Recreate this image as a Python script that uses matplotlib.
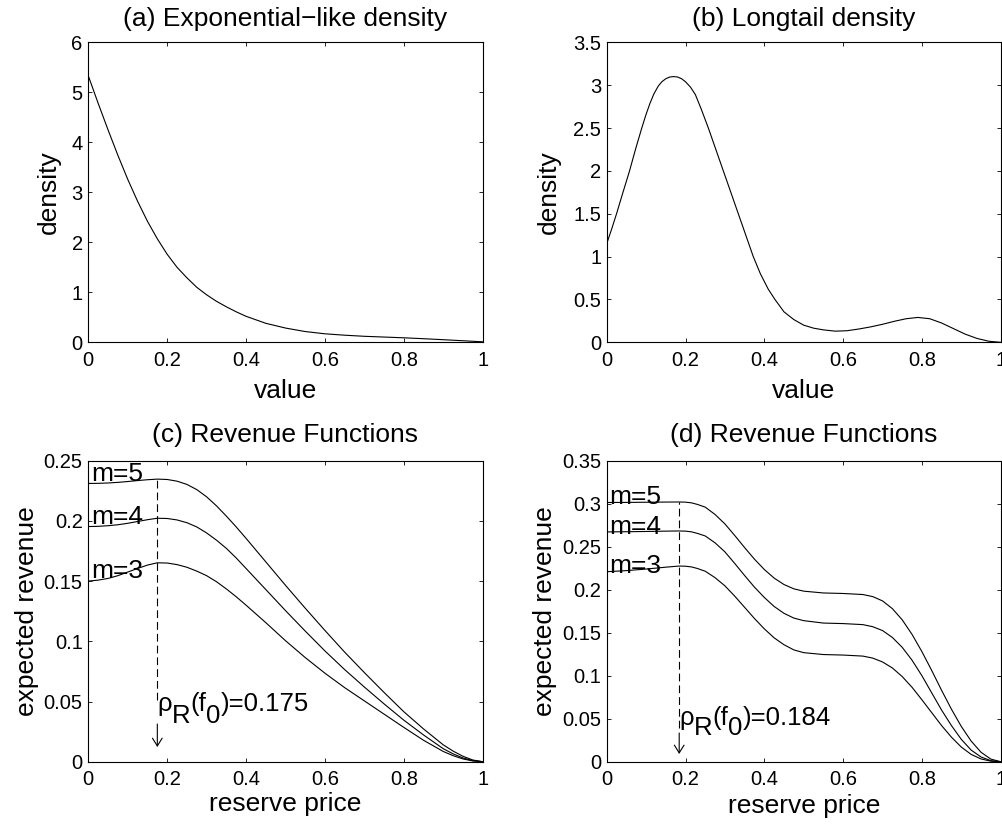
import numpy as np
import matplotlib
matplotlib.use("Agg")
import matplotlib.pyplot as plt
from matplotlib.transforms import IdentityTransform

plt.rcParams['font.family'] = ['Liberation Sans', 'DejaVu Sans']

# (a) exponential-like density
exp_x = [0, 0.025, 0.05, 0.075, 0.1, 0.125, 0.15, 0.175, 0.2, 0.225, 0.25, 0.275,
         0.3, 0.325, 0.35, 0.375, 0.4, 0.45, 0.5, 0.55, 0.6, 0.65, 0.7, 0.75,
         0.8, 0.85, 0.9, 0.95, 1.0]
exp_y = [5.33, 4.78, 4.25, 3.74, 3.26, 2.82, 2.42, 2.07, 1.76, 1.50, 1.29, 1.10,
         0.95, 0.82, 0.71, 0.61, 0.52, 0.38, 0.285, 0.215, 0.17, 0.142, 0.12, 0.105,
         0.09, 0.072, 0.052, 0.031, 0.01]

# (b) longtail density
lt_x = [0, 0.0125, 0.025, 0.04, 0.058, 0.073, 0.089, 0.1, 0.11, 0.12, 0.131, 0.14,
        0.15, 0.16, 0.17, 0.18, 0.19, 0.2, 0.213, 0.225, 0.24, 0.258, 0.277, 0.296,
        0.315, 0.334, 0.353, 0.372, 0.39, 0.41, 0.427, 0.45, 0.475, 0.5, 0.525,
        0.55, 0.58, 0.61, 0.64, 0.67, 0.7, 0.73, 0.76, 0.79, 0.82, 0.85, 0.88,
        0.91, 0.94, 0.97, 1.0]
lt_y = [1.15, 1.32, 1.50, 1.73, 2.00, 2.25, 2.50, 2.66, 2.79, 2.90, 2.99, 3.04,
        3.075, 3.095, 3.10, 3.095, 3.075, 3.04, 2.975, 2.89, 2.72, 2.50, 2.25, 2.00,
        1.75, 1.50, 1.25, 1.00, 0.80, 0.62, 0.50, 0.355, 0.265, 0.20, 0.165,
        0.145, 0.13, 0.135, 0.155, 0.18, 0.21, 0.245, 0.275, 0.29, 0.275, 0.225, 0.16,
        0.095, 0.045, 0.012, 0.0]

# (c) revenue functions, exponential-like density
rev_c_x = [0, 0.025, 0.05, 0.075, 0.1, 0.125, 0.15, 0.175, 0.2, 0.225, 0.25, 0.275,
           0.3, 0.325, 0.35, 0.375, 0.4, 0.45, 0.5, 0.55, 0.6, 0.65, 0.7, 0.75,
           0.8, 0.85, 0.9, 0.925, 0.95, 0.975, 1.0]
rev_c_m5 = [0.2311, 0.2312, 0.2315, 0.2320, 0.2327, 0.2335, 0.2342, 0.2347, 0.2344,
            0.2330, 0.2303, 0.2260, 0.2200, 0.2125, 0.2040, 0.1950, 0.1855, 0.1660,
            0.1465, 0.1275, 0.1090, 0.0910, 0.0740, 0.0575, 0.0415, 0.0272, 0.0140,
            0.0088, 0.0045, 0.0014, 0.0]
rev_c_m4 = [0.1953, 0.1955, 0.1960, 0.1968, 0.1980, 0.1995, 0.2010, 0.2022, 0.2020,
            0.2008, 0.1985, 0.1950, 0.1900, 0.1840, 0.1772, 0.1692, 0.1605, 0.1430,
            0.1255, 0.1085, 0.0920, 0.0765, 0.0620, 0.0480, 0.0345, 0.0222, 0.0108,
            0.0065, 0.0031, 0.0009, 0.0]
rev_c_m3 = [0.1500, 0.1508, 0.1522, 0.1545, 0.1575, 0.1605, 0.1633, 0.1652, 0.1650,
            0.1637, 0.1615, 0.1583, 0.1545, 0.1495, 0.1435, 0.1370, 0.1300, 0.1155,
            0.1005, 0.0865, 0.0735, 0.0615, 0.0505, 0.0395, 0.0285, 0.0178, 0.0085,
            0.0050, 0.0023, 0.0006, 0.0]
rho_c = 0.175

# (d) revenue functions, longtail density
rev_d_x = [0, 0.05, 0.1, 0.15, 0.184, 0.2, 0.215, 0.23, 0.25, 0.275, 0.3, 0.325,
           0.35, 0.375, 0.4, 0.425, 0.45, 0.475, 0.5, 0.55, 0.6, 0.65, 0.675, 0.7,
           0.725, 0.75, 0.775, 0.8, 0.825, 0.85, 0.875, 0.9, 0.925, 0.95, 0.975, 1.0]
rev_d_m5 = [0.3014, 0.3015, 0.3017, 0.3019, 0.3020, 0.3018, 0.3010, 0.2992, 0.2960,
            0.2875, 0.2765, 0.2630, 0.2490, 0.2355, 0.2235, 0.2135, 0.2060, 0.2010,
            0.1983, 0.1962, 0.1956, 0.1944, 0.1920, 0.1870, 0.1780, 0.1650, 0.1480,
            0.1280, 0.1060, 0.0830, 0.0610, 0.0410, 0.0240, 0.0110, 0.0030, 0.0]
rev_d_m4 = [0.2672, 0.2674, 0.2677, 0.2681, 0.2683, 0.2681, 0.2673, 0.2655, 0.2625,
            0.2545, 0.2440, 0.2305, 0.2165, 0.2030, 0.1910, 0.1805, 0.1725, 0.1670,
            0.1640, 0.1612, 0.1606, 0.1594, 0.1570, 0.1525, 0.1445, 0.1330, 0.1180,
            0.1000, 0.0800, 0.0600, 0.0420, 0.0260, 0.0135, 0.0055, 0.0012, 0.0]
rev_d_m3 = [0.2209, 0.2222, 0.2240, 0.2262, 0.2275, 0.2273, 0.2265, 0.2247, 0.2215,
            0.2140, 0.2045, 0.1925, 0.1795, 0.1665, 0.1545, 0.1440, 0.1360, 0.1300,
            0.1268, 0.1246, 0.1240, 0.1228, 0.1205, 0.1160, 0.1090, 0.0990, 0.0865,
            0.0720, 0.0570, 0.0420, 0.0285, 0.0170, 0.0085, 0.0032, 0.0006, 0.0]
rho_d = 0.184

x_ticks = [0, 0.2, 0.4, 0.6, 0.8, 1]
x_ticklabels = ['0', '0.2', '0.4', '0.6', '0.8', '1']

BIG = 19
RHO = 18.5
SMALL = 14.5
W, H = 1003.0, 827.0

fig = plt.figure(figsize=(10.03, 8.27), dpi=100)


def make_axes(left, top, right, bottom):
    return fig.add_axes([left / W, 1 - bottom / H, (right - left) / W, (bottom - top) / H])


def style(ax, yticks, ylabels, ymax, title, xlabel, ylabel, ylab_x, xlab_y, pad):
    ax.set_xlim(0, 1)
    ax.set_ylim(0, ymax)
    ax.set_xticks(x_ticks)
    ax.set_xticklabels(x_ticklabels)
    ax.set_yticks(yticks)
    ax.set_yticklabels(ylabels)
    ax.tick_params(direction='in', top=True, right=True, length=3, width=0.6,
                   labelsize=SMALL)
    ax.tick_params(axis='x', pad=6)
    ax.tick_params(axis='y', pad=4)
    for s in ax.spines.values():
        s.set_linewidth(0.8)
    ax.set_title(title, fontsize=BIG, pad=pad)
    ax.set_xlabel(xlabel, fontsize=BIG)
    ax.set_ylabel(ylabel, fontsize=BIG)
    ax.xaxis.set_label_coords(0.5, xlab_y)
    ax.xaxis.label.set_verticalalignment('baseline')
    ax.yaxis.set_label_coords(ylab_x, 0.5)


def rho_label(ax, x, y, value, drop):
    # MATLAB-style subscripts: full size, just lowered
    r = fig.canvas.get_renderer()
    px, py = ax.transData.transform((x, y))
    pieces = [('\u03c1', 0), ('R', -drop), ('(f', 0), ('0', -drop), (')=%.3f' % value, 0)]
    for s, dy in pieces:
        t = fig.text(px, py + dy, s, transform=IdentityTransform(), fontsize=RHO,
                     va='baseline', ha='left')
        px = t.get_window_extent(renderer=r).x1


def revenue_panel(ax, xs, curves, rho, label_y, rho_y, arrow, dash_low, drop):
    for ys in curves:
        ax.plot(xs, ys, color='k', lw=0.8)
    top = np.interp(rho, xs, curves[-1])
    ax.plot([rho, rho], [dash_low, top], color='k', lw=0.8, dashes=(7, 3.6))
    for name, yl in zip(['m=3', 'm=4', 'm=5'], label_y):
        ax.text(0.007, yl, name, fontsize=BIG, va='baseline', ha='left')
    rho_label(ax, rho, rho_y, rho, drop)
    ax.annotate('', xy=(rho, arrow[1]), xytext=(rho, arrow[0]),
                arrowprops=dict(arrowstyle='->,head_length=0.4,head_width=0.25',
                                mutation_scale=14, lw=0.8, color='k',
                                shrinkA=0, shrinkB=0))


# (a)
ax = make_axes(88.3, 42.3, 482.7, 342.3)
ax.plot(exp_x, exp_y, color='k', lw=0.8)
style(ax, [0, 1, 2, 3, 4, 5, 6], ['0', '1', '2', '3', '4', '5', '6'], 6,
      '(a) Exponential\u2212like density', 'value', 'density', -0.069, -0.185, 11.5)

# (b)
ax = make_axes(606.7, 42.3, 1000.7, 342.3)
ax.plot(lt_x, lt_y, color='k', lw=0.8)
style(ax, [0, 0.5, 1, 1.5, 2, 2.5, 3, 3.5],
      ['0', '0.5', '1', '1.5', '2', '2.5', '3', '3.5'], 3.5,
      '(b) Longtail density', 'value', 'density', -0.116, -0.185, 11.5)

# (c)
ax = make_axes(88.3, 460.7, 482.7, 761.7)
style(ax, [0, 0.05, 0.1, 0.15, 0.2, 0.25],
      ['0', '0.05', '0.1', '0.15', '0.2', '0.25'], 0.25,
      '(c) Revenue Functions', 'reserve price', 'expected revenue', -0.125, -0.165, 13.5)
revenue_panel(ax, rev_c_x, [rev_c_m3, rev_c_m4, rev_c_m5], rho_c,
              [0.1522, 0.1972, 0.2333], 0.0422, (0.0313, 0.0122), 0.0514, 12)

# (d)
ax = make_axes(606.7, 460.7, 1000.7, 761.7)
style(ax, [0, 0.05, 0.1, 0.15, 0.2, 0.25, 0.3, 0.35],
      ['0', '0.05', '0.1', '0.15', '0.2', '0.25', '0.3', '0.35'], 0.35,
      '(d) Revenue Functions', 'reserve price', 'expected revenue', -0.127, -0.17, 13.5)
revenue_panel(ax, rev_d_x, [rev_d_m3, rev_d_m4, rev_d_m5], rho_d,
              [0.2197, 0.2652, 0.3002], 0.0427, (0.0334, 0.009), 0.039, 10)

fig.savefig('out.png', dpi=100)
